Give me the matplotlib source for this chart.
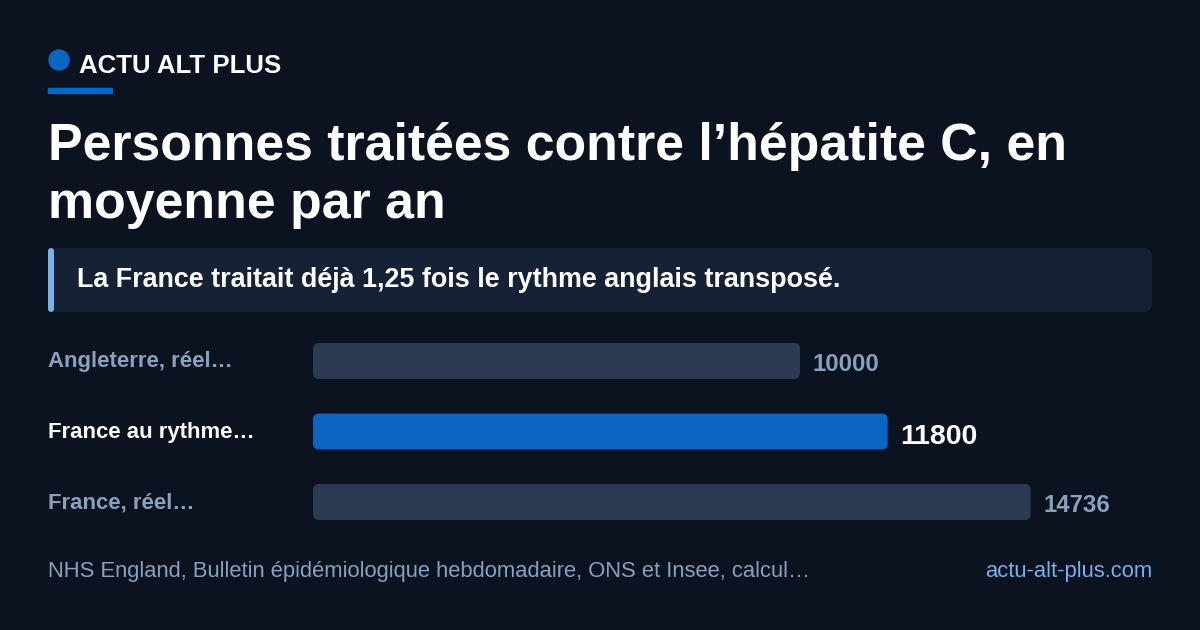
import matplotlib
matplotlib.use("Agg")
import matplotlib.pyplot as plt
from matplotlib.patches import FancyBboxPatch, Circle, Rectangle
import matplotlib.transforms as mtransforms

plt.rcParams['font.family'] = ['Liberation Sans', 'DejaVu Sans']

# data
categories = ["Angleterre, réel…", "France au rythme…", "France, réel…"]
values = [10000, 11800, 14736]
highlight = [False, True, False]

brand = "ACTU ALT PLUS"
title_lines = ["Personnes traitées contre l’hépatite C, en", "moyenne par an"]
subtitle = "La France traitait déjà 1,25 fois le rythme anglais transposé."
source = "NHS England, Bulletin épidémiologique hebdomadaire, ONS et Insee, calcul…"
site = "actu-alt-plus.com"

BG = "#0b1220"
BAR_GREY = "#2c3b53"
BAR_HI = "#0a66c2"
TXT_GREY = "#8aa1bd"
ACCENT = "#79b0ee"
BOX = "#172136"

W, H = 1200, 630
fig = plt.figure(figsize=(12, 6.3), dpi=100, facecolor=BG)


def fx(px):
    return px / W


def fy(py):
    return 1 - py / H


# header (circle in pixels so it stays round)
fig.patches.append(Circle((59, H - 60), 10, transform=None, color=BAR_HI))
fig.patches.append(Rectangle((fx(48), fy(93)), fx(64), 5 / H,
                             transform=fig.transFigure, color=BAR_HI))
fig.text(fx(79), fy(73), brand, color="white", fontsize=18.6, fontweight="bold",
         va="baseline", ha="left")

for i, line in enumerate(title_lines):
    fig.text(fx(48), fy(160 + 58 * i), line, color="white", fontsize=37.4,
             fontweight="bold", va="baseline", ha="left")

# subtitle box
fig.patches.append(FancyBboxPatch((48, H - 312), 1104, 64, transform=None,
                                  boxstyle="round,pad=0,rounding_size=9",
                                  facecolor=BOX, edgecolor="none"))
fig.patches.append(FancyBboxPatch((48, H - 312), 6, 64, transform=None,
                                  boxstyle="round,pad=0,rounding_size=3",
                                  facecolor=ACCENT, edgecolor="none"))
fig.text(fx(77), fy(287), subtitle, color="white", fontsize=19.4,
         fontweight="bold", va="baseline", ha="left")

# bars
ax = fig.add_axes([fx(313), fy(530), fx(1152) - fx(313), (530 - 335) / H])
ax.set_facecolor("none")
pos = list(range(len(categories)))
xmax = 839 / 0.0487
ax.set_xlim(0, xmax)
ax.set_ylim(2 + 28 / 70.5, -26 / 70.5)
ax.axis("off")

colors = [BAR_HI if h else BAR_GREY for h in highlight]
bars = ax.barh(pos, values, height=0.51, color=colors)

# swap the plain bars for rounded ones, same data extents
xu = xmax / 839.0
yu = (2 + 54 / 70.5) / 195.0
for b, c in zip(bars, colors):
    x0, y0, w, h = b.get_x(), b.get_y(), b.get_width(), b.get_height()
    b.set_visible(False)
    ax.add_patch(FancyBboxPatch((x0, y0), w, h,
                                boxstyle="round,pad=0,rounding_size=%f" % (6 * xu),
                                mutation_aspect=yu / xu,
                                facecolor=c, edgecolor="none"))

lab_tr = mtransforms.blended_transform_factory(fig.transFigure, ax.transData)
for p, cat, v, h in zip(pos, categories, values, highlight):
    ax.text(fx(48), p + 6.5 / 70.5, cat, transform=lab_tr,
            color="white" if h else TXT_GREY,
            fontsize=15.9, fontweight="bold", va="baseline", ha="left")
    ax.annotate(str(v), (v, p + (12 if h else 10) / 70.5), xytext=(9, 0),
                textcoords="offset points",
                color="white" if h else TXT_GREY,
                fontsize=20.5 if h else 17.3, fontweight="bold",
                va="baseline", ha="left")

# footer
fig.text(fx(48), fy(577), source, color=TXT_GREY, fontsize=15.8,
         va="baseline", ha="left")
fig.text(fx(1152), fy(577), site, color=ACCENT, fontsize=15.8,
         va="baseline", ha="right")

fig.savefig("out.png", dpi=100, facecolor=BG)
